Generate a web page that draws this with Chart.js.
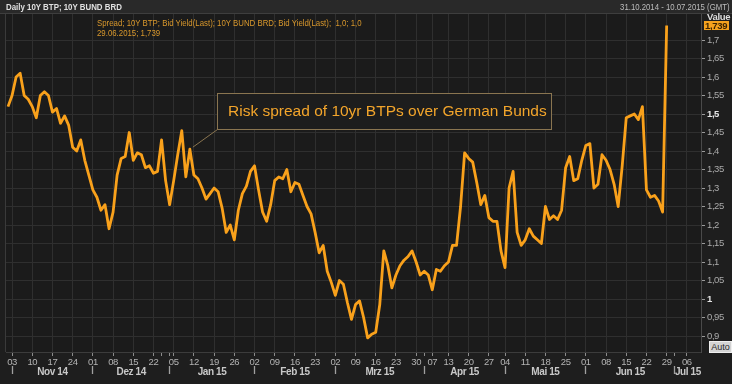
<!DOCTYPE html>
<html lang="de">
<head>
<meta charset="utf-8">
<title>Daily 10Y BTP; 10Y BUND BRD</title>
<script src="https://cdn.jsdelivr.net/npm/chart.js@4.4.1/dist/chart.umd.min.js"></script>
<style>
  html, body { margin:0; padding:0; width:732px; height:384px; overflow:hidden; background:#1e1e1e; }
  #wrap { position:relative; width:732px; height:384px; }
  #topbar { position:absolute; left:0; top:0; width:732px; height:13px; background:#292929; border-bottom:1px solid #3e3e3e; z-index:0; }
  canvas { position:absolute; left:0; top:0; z-index:1; }
  .txt { position:absolute; white-space:nowrap; font-family:"Liberation Sans Narrow","Liberation Sans",Arial,sans-serif; font-size:9.5px; line-height:11px; z-index:2; }
  #title { left:6px; top:1px; font-weight:bold; color:#e0e0e0; transform:scaleX(0.83); transform-origin:left top; }
  #range { right:2px; top:1px; color:#bdbdbd; transform:scaleX(0.82); transform-origin:right top; }
  #legend { left:97px; top:18px; line-height:10px; font-size:9.8px; color:#d9982c; transform:scaleX(0.8); transform-origin:left top; }
  #auto { left:709px; top:341px; width:21px; height:10px; line-height:10px; font-size:9px; text-align:center; background:#d4d4d4; color:#2a2a2a; border:1px solid #efefef; box-sizing:content-box; }
</style>
</head>
<body>
<div id="wrap">
  <div id="topbar"></div>
  <canvas id="c" width="732" height="384"></canvas>
  <div class="txt" id="title">Daily 10Y BTP; 10Y BUND BRD</div>
  <div class="txt" id="range">31.10.2014 - 10.07.2015 (GMT)</div>
  <div class="txt" id="legend"></div>
  <div class="txt" id="auto">Auto</div>
</div>
<script>
// ---------- DATA ----------
const firstDay = '2014-10-31';
const lastDay  = '2015-07-10';
const holidays = ['2014-12-24','2014-12-25','2014-12-26','2014-12-31','2015-01-01','2015-04-03','2015-04-06','2015-05-01'];
const hiddenWeekLabels = ['2014-12-29'];
const monthNames = ['Jan','Feb','Mrz','Apr','Mai','Jun','Jul','Aug','Sep','Okt','Nov','Dez'];
const yTicks = [0.9,0.95,1,1.05,1.1,1.15,1.2,1.25,1.3,1.35,1.4,1.45,1.5,1.55,1.6,1.65,1.7];
const boldYTicks = [1, 1.5];
const seriesLabel = 'Spread; 10Y BTP; Bid Yield(Last); 10Y BUND BRD; Bid Yield(Last);\u00a0 1,0; 1,0';
const annotText = 'Risk spread of 10yr BTPs over German Bunds';
const annotIndex = 45;

// daily spread (one value per trading day from 31.10.2014 to 29.06.2015)
const spread = [
  1.52, 1.55, 1.60, 1.61, 1.55, 1.54, 1.52, 1.49, 1.55, 1.56,
  1.55, 1.505,1.515,1.475,1.495,1.47, 1.41, 1.40, 1.43, 1.375,
  1.335,1.295,1.275,1.24, 1.255,1.19, 1.235,1.335,1.38, 1.385,
  1.45, 1.375,1.395,1.39, 1.355,1.36, 1.34, 1.345,1.43, 1.32,
  1.255,1.32, 1.39, 1.455,1.33, 1.405,1.335,1.325,1.30, 1.27,
  1.285,1.30, 1.29, 1.245,1.18, 1.20, 1.16, 1.24, 1.285,1.305,
  1.345,1.36, 1.295,1.235,1.21, 1.255,1.32, 1.33, 1.325,1.35,
  1.29, 1.315,1.31, 1.28, 1.25, 1.23, 1.18, 1.125,1.145,1.075,
  1.045,1.01, 1.05, 1.04, 0.99, 0.945,0.985,0.995,0.95, 0.895,
  0.905,0.91, 0.985,1.13, 1.09, 1.03, 1.065,1.09, 1.105,1.115,
  1.13, 1.10, 1.065,1.075,1.065,1.025,1.08, 1.075,1.09, 1.10,
  1.145,1.145,1.25, 1.395,1.38, 1.37, 1.315,1.255,1.28, 1.22,
  1.21, 1.21, 1.13, 1.085,1.30, 1.345,1.18, 1.145,1.16, 1.19,
  1.17, 1.16, 1.15, 1.25, 1.215,1.225,1.215,1.24, 1.355,1.385,
  1.32, 1.325,1.375,1.415,1.42, 1.30, 1.31, 1.39, 1.375,1.35,
  1.31, 1.25, 1.36, 1.49, 1.495,1.50, 1.485,1.52, 1.295,1.275,
  1.28, 1.265,1.235,1.739
];

// ---------- trading calendar ----------
function buildDays(){
  const out = [];
  let t = Date.parse(firstDay + 'T00:00:00Z');
  const end = Date.parse(lastDay + 'T00:00:00Z');
  while (t <= end) {
    const d = new Date(t);
    const wd = d.getUTCDay();
    const iso = d.toISOString().slice(0,10);
    if (wd !== 0 && wd !== 6 && !holidays.includes(iso)) out.push(iso);
    t += 86400000;
  }
  return out;
}
const days = buildDays();
function weekKey(iso){ const d = new Date(iso+'T00:00:00Z'); const off = (d.getUTCDay()+6)%7; return new Date(d.getTime()-off*86400000).toISOString().slice(0,10); }

const weekIdx = [], monthIdx = [];
for (let i = 1; i < days.length; i++) {
  if (weekKey(days[i]) !== weekKey(days[i-1])) weekIdx.push(i);
  if (days[i].slice(5,7) !== days[i-1].slice(5,7)) monthIdx.push(i);
}
const xMin = -0.5, xMax = 171.5;
const xTickIdx = Array.from(new Set(weekIdx.concat(monthIdx))).sort((a,b)=>a-b);
const isLabeledWeek = v => weekIdx.includes(v) && !hiddenWeekLabels.includes(days[v]);

const monthMid = [];
for (let k = 0; k < monthIdx.length; k++) {
  const a = monthIdx[k], b = (k+1 < monthIdx.length) ? monthIdx[k+1] : xMax;
  const d = days[a];
  monthMid.push({v:(a+b)/2, label: monthNames[+d.slice(5,7)-1] + ' ' + d.slice(2,4)});
}
const x2Ticks = monthIdx.concat(monthMid.map(m=>m.v)).sort((a,b)=>a-b);

const fmt = v => String(v).replace('.', ',');
const lastI = spread.length-1;
const lastDate = days[lastI].split('-').reverse().join('.');
document.getElementById('legend').innerHTML = seriesLabel + '<br>' + lastDate + '; ' + fmt(spread[lastI]);

// ---------- chart ----------
const FN = '"Liberation Sans Narrow","Liberation Sans",Arial,sans-serif';
const LINE = '#f9a11b';
const GRID = '#2f2f2f';

const decor = {
  id:'decor',
  beforeDraw(chart){
    const {ctx, chartArea:a} = chart;
    ctx.letterSpacing = '-0.4px';
    ctx.save();
    ctx.fillStyle = '#1b1b1b';
    ctx.fillRect(a.left, a.top, a.right-a.left, a.bottom-a.top);
    ctx.strokeStyle = '#3a3a3a';
    ctx.beginPath(); ctx.moveTo(a.left-0.5, a.top); ctx.lineTo(a.left-0.5, a.bottom); ctx.stroke();
    ctx.restore();
  },
  afterDatasetsDraw(chart){
    const ctx = chart.ctx;
    const p = chart.getDatasetMeta(0).data[annotIndex];
    const bx = 217, by = 93, bw = 334, bh = 36;
    ctx.save();
    ctx.letterSpacing = '0px';
    ctx.strokeStyle = '#8a7550'; ctx.lineWidth = 1;
    ctx.beginPath(); ctx.moveTo(bx+0.5, by+bh+0.5); ctx.lineTo(p.x+3, p.y-2); ctx.stroke();
    ctx.fillStyle = '#1d1d1d'; ctx.fillRect(bx, by, bw, bh);
    ctx.strokeRect(bx+0.5, by+0.5, bw, bh);
    ctx.fillStyle = '#f3a52b';
    ctx.font = '15.5px "Liberation Sans", Arial, sans-serif';
    ctx.textBaseline = 'middle'; ctx.textAlign = 'left';
    ctx.fillText(annotText, bx+11, by+bh/2+1);
    ctx.restore();
  },
  afterDraw(chart){
    const ctx = chart.ctx, ys = chart.scales.y;
    const py = ys.getPixelForValue(spread[lastI]);
    ctx.save();
    ctx.letterSpacing = '-0.3px';
    ctx.font = 'bold 9.5px ' + FN;
    ctx.textBaseline = 'middle'; ctx.textAlign = 'left';
    ctx.fillStyle = '#dedede';
    ctx.fillText('Value', 707, 17);
    ctx.fillStyle = '#f5a21e';
    ctx.fillRect(704, Math.round(py-4.5), 25, 9);
    ctx.fillStyle = '#3d2400';
    ctx.fillText(fmt(spread[lastI]), 705, py+0.5);
    ctx.restore();
    ctx.letterSpacing = '0px';
  }
};

new Chart(document.getElementById('c'), {
  type:'line',
  data:{ datasets:[{
    data: spread.map((v,i)=>({x:i, y:v})),
    borderColor: LINE, borderWidth: 2.8, pointRadius: 0, tension: 0, fill: false,
    borderJoinStyle:'round',
    xAxisID:'x', yAxisID:'y'
  }]},
  options:{
    responsive:false, animation:false, devicePixelRatio:1,
    layout:{padding:{left:6, top:14, right:0, bottom:0}},
    plugins:{legend:{display:false}, tooltip:{enabled:false}},
    scales:{
      x:{
        type:'linear', position:'bottom', weight:0, min:xMin, max:xMax,
        afterBuildTicks:s=>{ s.ticks = xTickIdx.map(v=>({value:v})); },
        afterFit:s=>{ s.height = 14; },
        ticks:{ autoSkip:false, maxRotation:0, padding:1, color:'#b4b4b4', font:{family:FN, size:9.5},
          callback:v=> isLabeledWeek(v) ? days[v].slice(8,10) : '' },
        grid:{ drawTicks:true, tickLength:4, tickColor:'#8c8c8c', lineWidth:1,
          color:c=> (c.tick && isLabeledWeek(c.tick.value)) ? GRID : 'rgba(0,0,0,0)' },
        border:{ display:true, color:'#3c3c3c' }
      },
      x2:{
        type:'linear', position:'bottom', weight:1, min:xMin, max:xMax,
        afterBuildTicks:s=>{ s.ticks = x2Ticks.map(v=>({value:v})); },
        afterFit:s=>{ s.height = 18; },
        ticks:{ autoSkip:false, maxRotation:0, padding:-8, color:'#c8c8c8', font:{family:FN, size:10, weight:'bold'},
          callback:v=>{ const m = monthMid.find(o=>o.v===v); return m ? m.label : ''; } },
        grid:{ drawOnChartArea:false, drawTicks:true, tickLength:8, tickWidth:1.3,
          tickColor:c=> (c.tick && monthIdx.includes(c.tick.value)) ? '#a0a0a0' : 'rgba(0,0,0,0)',
          color:'rgba(0,0,0,0)' },
        border:{ display:false }
      },
      y:{
        type:'linear', position:'right', min:0.8568, max:1.7703,
        afterBuildTicks:s=>{ s.ticks = yTicks.map(v=>({value:v})); },
        afterFit:s=>{ s.width = 31; },
        ticks:{ padding:2, callback:v=>fmt(v),
          color:c=> (c.tick && boldYTicks.includes(c.tick.value)) ? '#e6e6e6' : '#ababab',
          font:c=>({family:FN, size:9.5, weight:(c.tick && boldYTicks.includes(c.tick.value)) ? 'bold' : 'normal'}) },
        grid:{ color:GRID, drawTicks:true, tickLength:4, tickColor:'#9a9a9a' },
        border:{ display:true, color:'#4a4a4a' }
      }
    }
  },
  plugins:[decor]
});
</script>
</body>
</html>
